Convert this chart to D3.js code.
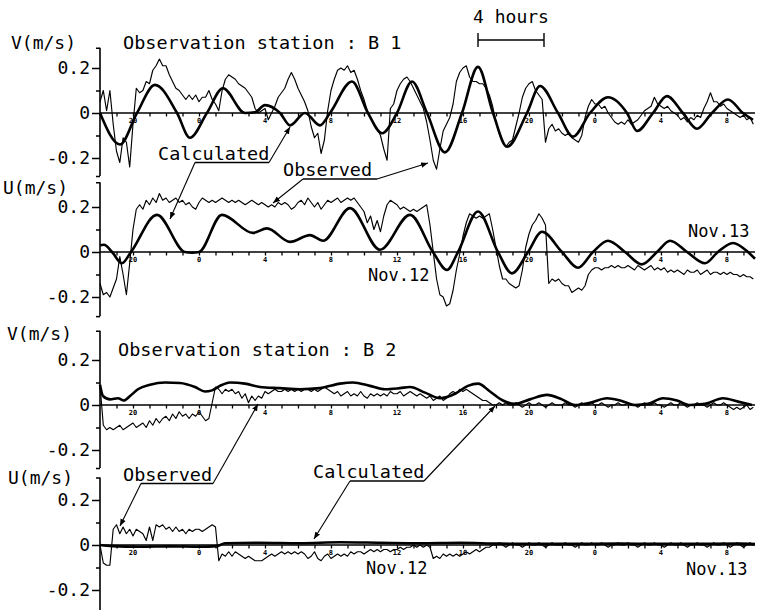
<!DOCTYPE html>
<html><head><meta charset="utf-8">
<script src="https://cdn.jsdelivr.net/npm/d3@7"></script>
<style>
body{margin:0;background:#fff}
text{font-family:"DejaVu Sans Mono",monospace;fill:#000}
</style>
</head><body>
<svg id="chart" width="761" height="610"></svg>
<script>
// ---------------- DATA ----------------
// time axis: hours counted from Nov.11 00:00
const timeDomain = [18, 57.7];
const hourTickValues = [20, 24, 28, 32, 36, 40, 44, 48, 52, 56];
const hourTickLabels = ["20", "0", "4", "8", "12", "16", "20", "0", "4", "8"];
const yTickValues = [-0.2, 0, 0.2];
const yMinorTicks = [-0.1, 0.1];

// observed records sampled every 0.2 h starting at 18 h
const obsStartHour = 18, obsStepHour = 0.2;

// Station B1, V component
const b1VCalcHours = [18.00,19.21,20.24,21.33,22.67,23.45,24.48,25.45,26.79,27.39,28.00,28.91,29.52,30.42,31.33,31.94,33.27,34.24,35.09,36.00,36.91,37.82,38.91,39.94,40.91,41.82,42.67,43.88,44.67,45.76,46.67,47.70,48.79,49.94,50.55,51.52,52.36,53.33,54.18,55.09,56.06,56.97,57.58];
const b1VCalc      = [0,-0.14,0,0.125,0,-0.11,0,0.11,0,0.003,0.035,0,-0.055,0,-0.055,0,0.14,0,-0.09,0,0.14,0,-0.175,0,0.205,0,-0.15,0,0.12,0,-0.105,0,0.07,0,-0.08,0,0.075,0,-0.07,0,0.06,0,-0.03];
const b1VObs = [
 0.05,0.10,0.01,0.10,-0.05,-0.17,-0.22,-0.11,-0.13,-0.24,
 -0.05,0.11,0.09,0.10,0.14,0.13,0.19,0.21,0.24,0.21,
 0.21,0.17,0.14,0.11,0.10,0.08,0.06,0.08,0.06,0.08,
 0.05,0.07,0.07,0.10,0.06,0.04,0.01,0.10,0.15,0.17,
 0.16,0.15,0.13,0.12,0.11,0.09,0.07,0.02,0.00,0.01,
 0.02,-0.03,0.00,0.03,0.07,0.09,0.11,0.15,0.18,0.15,
 0.11,0.08,0.05,0.01,-0.06,-0.11,-0.09,-0.18,-0.12,0.01,
 0.10,0.15,0.19,0.20,0.19,0.21,0.18,0.19,0.15,0.10,
 0.06,0.01,-0.02,-0.05,-0.07,-0.10,-0.16,-0.21,0.02,0.04,
 0.10,0.13,0.15,0.16,0.14,0.11,0.08,0.05,0.02,-0.04,
 -0.12,-0.21,-0.25,-0.16,-0.08,-0.05,-0.02,0.04,0.14,0.18,
 0.20,0.21,0.16,0.14,0.14,0.13,0.13,0.11,0.08,0.03,
 -0.04,-0.09,-0.13,-0.15,-0.13,-0.12,-0.06,0.00,0.07,0.11,
 0.13,0.14,0.10,0.08,0.06,-0.13,-0.07,-0.05,-0.08,-0.07,
 -0.09,-0.10,-0.09,-0.11,-0.12,-0.13,-0.10,-0.02,0.03,0.06,
 0.04,0.04,0.02,0.03,0.00,-0.02,-0.04,-0.05,-0.04,-0.05,
 -0.03,-0.05,-0.04,-0.03,-0.01,0.01,0.02,0.03,0.07,0.04,
 0.03,0.02,0.03,0.01,0.00,-0.01,-0.03,-0.02,-0.04,-0.02,
 -0.03,-0.01,-0.02,0.02,0.05,0.09,0.05,0.05,0.03,0.04,
 0.02,0.01,0.00,-0.01,-0.02,-0.01,-0.03,-0.02,-0.05];

// Station B1, U component
const b1UCalcHours = [18.00,18.24,18.73,19.33,19.88,21.45,23.15,23.58,24.00,25.39,27.27,28.12,29.52,30.73,31.52,33.15,34.97,36.79,38.18,39.03,39.70,40.91,42.12,42.97,43.94,44.79,46.00,46.97,47.88,48.79,49.82,50.85,51.76,52.55,53.58,54.67,55.45,56.36,57.27,57.70];
const b1UCalc      = [0.03,0.032,0,-0.05,0,0.165,0,-0.003,0,0.165,0.085,0.105,0.045,0.075,0.05,0.195,0.01,0.165,0,-0.08,0,0.18,0,-0.095,0,0.09,0,-0.07,0,0.05,0,-0.055,0,0.05,0,-0.05,0,0.04,0,-0.03];
const b1UObs = [
 -0.14,-0.19,-0.18,-0.20,-0.16,-0.12,-0.02,-0.10,-0.19,-0.05,
 0.10,0.19,0.21,0.19,0.23,0.21,0.24,0.22,0.26,0.23,
 0.24,0.22,0.23,0.24,0.22,0.23,0.21,0.22,0.20,0.19,
 0.22,0.24,0.23,0.22,0.23,0.22,0.23,0.24,0.23,0.22,
 0.23,0.22,0.23,0.22,0.21,0.22,0.23,0.22,0.21,0.22,
 0.21,0.20,0.21,0.20,0.22,0.21,0.22,0.21,0.19,0.20,
 0.22,0.23,0.21,0.24,0.22,0.20,0.22,0.19,0.21,0.23,
 0.22,0.23,0.24,0.22,0.23,0.24,0.23,0.24,0.22,0.20,
 0.18,0.13,0.16,0.10,0.14,0.09,0.16,0.21,0.23,0.22,
 0.21,0.19,0.20,0.19,0.18,0.19,0.18,0.19,0.20,0.21,
 0.12,0.00,-0.12,-0.19,-0.20,-0.24,-0.23,-0.17,-0.08,-0.01,
 0.07,0.13,0.17,0.16,0.15,0.16,0.15,0.16,0.17,0.10,
 0.02,-0.06,-0.12,-0.12,-0.14,-0.15,-0.16,-0.15,-0.08,0.02,
 0.08,0.12,0.14,0.17,0.15,0.12,-0.14,-0.12,-0.13,-0.12,
 -0.14,-0.15,-0.15,-0.18,-0.17,-0.16,-0.17,-0.15,-0.10,-0.08,
 -0.07,-0.07,-0.08,-0.07,-0.07,-0.06,-0.07,-0.06,-0.07,-0.07,
 -0.06,-0.07,-0.08,-0.06,-0.07,-0.08,-0.07,-0.06,-0.08,-0.07,
 -0.08,-0.07,-0.09,-0.08,-0.09,-0.08,-0.09,-0.10,-0.08,-0.09,
 -0.09,-0.08,-0.10,-0.09,-0.08,-0.10,-0.09,-0.09,-0.10,-0.09,
 -0.10,-0.09,-0.10,-0.10,-0.11,-0.10,-0.11,-0.11,-0.12];

// Station B2, V component
const b2VCalcHours = [18.00,18.18,18.61,19.09,19.45,19.82,20.30,21.03,21.94,22.85,23.76,24.36,24.79,25.27,25.88,26.79,27.70,28.91,30.12,31.33,32.55,33.33,34.36,35.27,36.18,36.79,37.70,38.61,39.52,40.30,40.91,41.64,42.42,43.15,44.06,45.09,46.00,46.79,47.70,48.73,49.52,50.42,51.21,52.12,52.97,53.76,54.67,55.76,56.67,57.52];
const b2VCalc      = [0.09,0.04,0.025,0.03,0.02,0.04,0.07,0.09,0.10,0.098,0.08,0.06,0.065,0.085,0.10,0.095,0.08,0.075,0.07,0.075,0.095,0.10,0.085,0.07,0.075,0.08,0.055,0.03,0.05,0.085,0.095,0.06,0.02,0.005,0.025,0.045,0.025,0.0,0.01,0.03,0.02,0.0,0.005,0.03,0.02,0.0,0.005,0.03,0.015,0.0];
const b2VObs = [
 0.09,-0.09,-0.11,-0.10,-0.11,-0.10,-0.09,-0.11,-0.10,-0.09,
 -0.08,-0.10,-0.09,-0.08,-0.10,-0.07,-0.09,-0.06,-0.08,-0.06,
 -0.05,-0.07,-0.04,-0.06,-0.03,-0.05,-0.04,-0.06,-0.04,-0.05,
 -0.03,-0.05,-0.07,-0.06,0.01,0.08,0.07,0.05,0.07,0.06,
 0.07,0.05,0.06,0.03,0.05,0.01,0.04,0.02,0.04,0.03,
 0.06,0.05,0.06,0.07,0.06,0.06,0.07,0.06,0.07,0.06,
 0.07,0.06,0.07,0.07,0.06,0.07,0.06,0.07,0.08,0.07,
 0.06,0.05,0.06,0.04,0.05,0.06,0.04,0.05,0.04,0.06,
 0.04,0.03,0.05,0.04,0.05,0.04,0.05,0.04,0.06,0.05,
 0.05,0.06,0.04,0.05,0.06,0.05,0.04,0.05,0.04,0.03,
 0.04,0.02,0.03,0.04,0.02,0.03,0.05,0.06,0.05,0.07,
 0.06,0.07,0.06,0.05,0.04,0.03,0.02,0.02,0.01,0.00,
 0.00,0.01,0.00,0.01,0.00,0.00,0.01,0.00,-0.01,0.00,
 0.01,0.00,0.00,0.01,0.00,-0.01,0.00,0.01,0.00,0.00,
 0.00,0.01,0.00,0.00,-0.01,0.00,0.01,0.00,0.00,0.01,
 0.00,0.00,0.01,0.00,-0.01,0.00,0.00,0.01,0.00,0.00,
 0.01,0.00,0.00,-0.01,0.00,0.01,0.00,0.00,0.01,0.00,
 0.00,-0.01,0.00,0.01,0.00,0.00,0.01,0.00,-0.01,0.00,
 0.00,0.01,0.00,0.00,-0.01,0.00,0.01,0.00,0.00,0.01,
 0.00,-0.01,-0.02,-0.01,-0.02,-0.01,0.00,-0.02,-0.01];

// Station B2, U component
const b2UCalcHours = [18.00,18.73,20.42,22.24,24.06,25.09,25.58,27.70,30.12,32.55,34.97,37.39,39.82,42.24,45.88,49.52,53.15,56.79,57.70];
const b2UCalc      = [0.0,-0.005,-0.008,-0.006,-0.008,-0.005,0.008,0.01,0.008,0.012,0.01,0.008,0.01,0.006,0.005,0.006,0.005,0.006,0.004];
const b2UObs = [
 0.00,-0.08,-0.09,-0.09,0.07,0.09,0.05,0.08,0.05,0.07,
 0.04,0.07,0.06,0.05,0.02,0.08,0.02,0.09,0.08,0.09,
 0.07,0.08,0.06,0.08,0.06,0.07,0.05,0.07,0.06,0.07,
 0.07,0.06,0.07,0.08,0.09,0.08,-0.07,-0.04,-0.05,-0.03,
 -0.05,-0.03,-0.04,-0.05,-0.06,-0.05,-0.06,-0.07,-0.07,-0.07,
 -0.06,-0.05,-0.04,-0.05,-0.04,-0.03,-0.04,-0.03,-0.04,-0.03,
 -0.04,-0.03,-0.04,-0.06,-0.05,-0.03,-0.06,-0.07,-0.05,-0.04,
 -0.06,-0.05,-0.04,-0.05,-0.04,-0.05,-0.03,-0.04,-0.03,-0.03,
 -0.04,-0.03,-0.02,-0.03,-0.02,-0.03,-0.02,-0.02,-0.03,-0.02,
 -0.02,-0.01,-0.02,-0.01,-0.01,0.00,-0.01,0.00,-0.01,0.00,
 -0.01,-0.06,-0.05,-0.06,-0.04,-0.05,-0.04,-0.05,-0.04,-0.05,
 -0.04,-0.03,-0.04,-0.03,-0.02,-0.03,-0.02,-0.01,-0.01,0.00,
 0.00,0.01,0.00,-0.01,0.00,0.01,0.00,0.00,-0.01,0.00,
 0.01,0.00,0.00,0.01,0.00,-0.01,0.00,0.01,0.00,0.00,
 0.00,0.01,0.00,0.00,-0.01,0.00,0.01,0.00,0.00,0.01,
 0.00,0.00,0.01,0.00,-0.01,0.00,0.00,0.01,0.00,0.00,
 0.01,0.00,0.00,-0.01,0.00,0.01,0.00,0.00,0.01,0.00,
 0.00,-0.01,0.00,0.01,0.00,0.00,0.01,0.00,-0.01,0.00,
 0.00,0.01,0.00,0.00,-0.01,0.00,0.01,0.00,0.00,0.01,
 0.00,-0.01,0.00,0.01,0.00,-0.01,0.00,0.01,0.00];

// ---------------- LAYOUT ----------------
const svg = d3.select("#chart");
const x = d3.scaleLinear().domain(timeDomain).range([100, 755]);
const half = 45; // px for 0.2 m/s

const panels = [
  {label:"V(m/s)", lx:11, ly:49, y0:113, top:0.29, bottom:-0.28, calcT:b1VCalcHours, calc:b1VCalc, obs:b1VObs},
  {label:"U(m/s)", lx:3,  ly:194, y0:252, top:0.31, bottom:-0.285, calcT:b1UCalcHours, calc:b1UCalc, obs:b1UObs},
  {label:"V(m/s)", lx:7,  ly:340, y0:405, top:0.33, bottom:-0.28, calcT:b2VCalcHours, calc:b2VCalc, obs:b2VObs},
  {label:"U(m/s)", lx:8,  ly:484, y0:545, top:0.30, bottom:-0.30, calcT:b2UCalcHours, calc:b2UCalc, obs:b2UObs}
];

const fmt = d => d === 0 ? "0" : (d < 0 ? "-" : "") + Math.abs(d).toFixed(1);

panels.forEach(p => {
  const y = d3.scaleLinear().domain([-0.2, 0.2]).range([p.y0 + half, p.y0 - half]);
  const g = svg.append("g");

  // y axis
  const ya = g.append("g").attr("transform", "translate(100,0)")
    .call(d3.axisLeft(y).tickValues(yTickValues).tickSize(8).tickPadding(2).tickFormat(fmt));
  ya.select(".domain").remove();
  ya.selectAll("line").attr("stroke", "#000").attr("stroke-width", 1.5);
  ya.selectAll("text").attr("font-size", 18).attr("font-family", "DejaVu Sans Mono").attr("fill", "#000");
  const ym = g.append("g").attr("transform", "translate(100,0)")
    .call(d3.axisLeft(y).tickValues(yMinorTicks.concat([p.top, p.bottom])).tickSize(4).tickFormat(""));
  ym.select(".domain").remove();
  ym.selectAll("line").attr("stroke", "#000").attr("stroke-width", 1.5);
  g.append("line").attr("x1", 100).attr("x2", 100).attr("y1", y(p.top)).attr("y2", y(p.bottom))
    .attr("stroke", "#000").attr("stroke-width", 1.6);

  // zero line (time axis)
  g.append("line").attr("x1", x(timeDomain[0])).attr("x2", x(timeDomain[1]))
    .attr("y1", y(0)).attr("y2", y(0)).attr("stroke", "#000").attr("stroke-width", 1.7);
  const xa = g.append("g").attr("transform", `translate(0,${y(0)})`)
    .call(d3.axisBottom(x).tickValues(d3.range(19, 58)).tickSize(3.5).tickFormat(""));
  xa.select(".domain").remove();
  xa.selectAll("line").attr("stroke", "#000").attr("stroke-width", 1.3);
  g.selectAll(".hl").data(hourTickValues).enter().append("text")
    .attr("x", d => x(d)).attr("y", y(0) + 9.5).attr("text-anchor", "middle")
    .attr("font-size", 7).attr("font-weight", "bold").attr("font-family", "DejaVu Sans").attr("fill", "#000")
    .text((d, i) => hourTickLabels[i]);

  // label
  g.append("text").attr("x", p.lx).attr("y", p.ly).attr("font-size", 18).text(p.label);

  // observed (thin)
  const obsLine = d3.line().x((d, i) => x(obsStartHour + i * obsStepHour)).y(d => y(d));
  g.append("path").datum(p.obs).attr("d", obsLine)
    .attr("fill", "none").attr("stroke", "#000").attr("stroke-width", 1.15).attr("stroke-linejoin", "round");

  // calculated (thick)
  const calcLine = d3.line().x(d => x(d[0])).y(d => y(d[1])).curve(d3.curveMonotoneX);
  g.append("path").datum(p.calcT.map((t, i) => [t, p.calc[i]])).attr("d", calcLine)
    .attr("fill", "none").attr("stroke", "#000").attr("stroke-width", 2.6).attr("stroke-linejoin", "round");
});

// titles
svg.append("text").attr("x", 123).attr("y", 49).attr("font-size", 18.5).text("Observation station : B 1");
svg.append("text").attr("x", 118).attr("y", 356).attr("font-size", 18.5).text("Observation station : B 2");

// 4 hours scale bar
const barX = 478, barW = x(4) - x(0);
svg.append("text").attr("x", barX + barW / 2).attr("y", 23).attr("text-anchor", "middle").attr("font-size", 18).text("4 hours");
svg.append("line").attr("x1", barX).attr("x2", barX + barW).attr("y1", 40).attr("y2", 40).attr("stroke", "#000").attr("stroke-width", 1.4);
[barX, barX + barW].forEach(bx => svg.append("line").attr("x1", bx).attr("x2", bx).attr("y1", 33).attr("y2", 47).attr("stroke", "#000").attr("stroke-width", 1.4));

// date labels
[["Nov.12", 368, 281], ["Nov.13", 688, 237], ["Nov.12", 366, 574], ["Nov.13", 686, 575]].forEach(([t, lx, ly]) =>
  svg.append("text").attr("x", lx).attr("y", ly).attr("font-size", 17).text(t));

// annotation labels with leader lines
svg.append("defs").append("marker").attr("id", "arr").attr("viewBox", "0 0 10 10")
  .attr("refX", 10).attr("refY", 5).attr("markerWidth", 7).attr("markerHeight", 7).attr("orient", "auto")
  .attr("markerUnits", "userSpaceOnUse")
  .append("path").attr("d", "M0,1 L10,5 L0,9 Z").attr("fill", "#000");

const notes = [
  {text:"Calculated", tx:158, ty:160, ul:[195, 269, 162.5], leaders:[[195,162.5,170,219],[269,162.5,290,127]]},
  {text:"Observed",   tx:283, ty:176, ul:[303, 377, 179],   leaders:[[303,179,273,203],[377,179,428,163]]},
  {text:"Observed",   tx:123, ty:481, ul:[141, 213, 483.5], leaders:[[141,483.5,120,526],[213,483.5,258,404]]},
  {text:"Calculated", tx:313, ty:478, ul:[350, 424, 481],   leaders:[[350,481,314,539],[424,481,495,406]]}
];
notes.forEach(n => {
  svg.append("text").attr("x", n.tx).attr("y", n.ty).attr("font-size", 18.5).text(n.text);
  svg.append("line").attr("x1", n.ul[0]).attr("x2", n.ul[1]).attr("y1", n.ul[2]).attr("y2", n.ul[2])
    .attr("stroke", "#000").attr("stroke-width", 1.3);
  n.leaders.forEach(l => svg.append("line").attr("x1", l[0]).attr("y1", l[1]).attr("x2", l[2]).attr("y2", l[3])
    .attr("stroke", "#000").attr("stroke-width", 1.1).attr("marker-end", "url(#arr)"));
});
</script>
</body></html>
